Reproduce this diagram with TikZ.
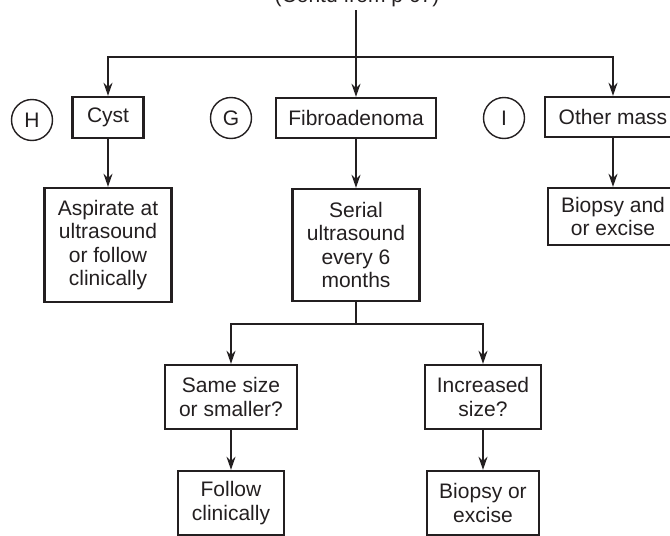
\documentclass[tikz,border=0pt]{standalone}
\usepackage{fontspec}
\setmainfont{Liberation Sans}
\usetikzlibrary{arrows.meta}
\definecolor{ink}{HTML}{231F20}
\begin{document}
\begin{tikzpicture}[x=1pt,y=-1pt,
  every node/.style={text=ink, font=\fontsize{21}{23.5}\selectfont},
  box/.style={draw=ink, line width=2.4pt, rectangle, align=center, inner sep=0pt},
  tag/.style={draw=ink, line width=1.4pt, circle, inner sep=0pt, minimum size=41pt},
  link/.style={draw=ink, line width=1.4pt},
  arr/.style={link, -{Stealth[length=13pt,width=9pt]}}]
\useasboundingbox (0,0) rectangle (670,536);
\clip (0,0) rectangle (670,536);

% heading and the first split
\node[anchor=base] (head) at (357,2) {(Contd from p 67)};
\coordinate (top) at (356,10);
\coordinate (split) at (356,57);

% first row
\node[tag] (h) at (32,120) {H};
\node[tag] (g) at (231,118) {G};
\node[tag] (i) at (504,118) {I};
\node[box, minimum width=71pt, minimum height=41pt] (cyst) at (108,117.5) {Cyst};
\node[box, minimum width=160pt, minimum height=40pt] (fibro) at (356,118) {Fibroadenoma};
\node[box, minimum width=136pt, minimum height=40pt] (other) at (613,117) {Other mass};

% second row
\node[box, minimum width=127pt, minimum height=114pt] (asp) at (108,245)
  {Aspirate at\\ultrasound\\or follow\\clinically};
\node[box, minimum width=127pt, minimum height=112pt] (serial) at (356,245)
  {Serial\\ultrasound\\every 6\\months};
\node[box, minimum width=130pt, minimum height=57pt] (biopsyand) at (613,216.5)
  {Biopsy and\\or excise};

% fibroadenoma follow-up
\coordinate (split2) at (356,324);
\node[box, minimum width=132pt, minimum height=64pt] (same) at (231,397)
  {Same size\\or smaller?};
\node[box, minimum width=116pt, minimum height=64pt] (incr) at (483,397)
  {Increased\\size?};
\node[box, minimum width=106pt, minimum height=64pt] (follow) at (231,503)
  {Follow\\clinically};
\node[box, minimum width=112pt, minimum height=64pt] (biopsyor) at (483,503)
  {Biopsy or\\excise};

% connectors
\draw[link] (top) -- (split);
\draw[arr] (split) -| (cyst.north);
\draw[arr] (split) -- (fibro.north);
\draw[arr] (split) -| (other.north);
\draw[arr] (cyst) -- (asp);
\draw[arr] (fibro) -- (serial);
\draw[arr] (other) -- (biopsyand);
\draw[link] (serial) -- (split2);
\draw[arr] (split2) -| (same.north);
\draw[arr] (split2) -| (incr.north);
\draw[arr] (same) -- (follow);
\draw[arr] (incr) -- (biopsyor);
\end{tikzpicture}
\end{document}
